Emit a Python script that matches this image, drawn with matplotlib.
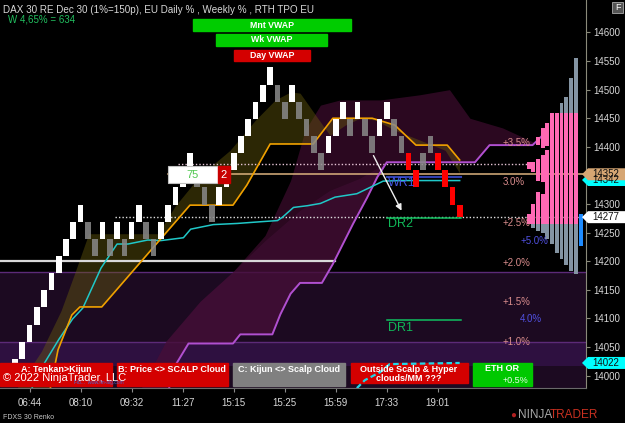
import numpy as np
import matplotlib.pyplot as plt
from matplotlib.patches import Rectangle, Polygon
from matplotlib.transforms import blended_transform_factory

plt.rcParams['font.family'] = ['Liberation Sans', 'DejaVu Sans']

# ---- renko bricks (30 point bricks) ----
brick_open = [13999, 14029, 14059, 14089, 14119, 14149, 14179, 14209, 14239, 14269,
              14269, 14239, 14239, 14239, 14239, 14239, 14239, 14269, 14269, 14239,
              14239, 14269, 14299, 14329, 14359, 14359, 14329, 14299, 14299, 14329,
              14359, 14389, 14419, 14449, 14479, 14509, 14509, 14479, 14479, 14479,
              14449, 14419, 14389, 14389, 14419, 14449, 14449, 14449, 14449, 14419,
              14419, 14449, 14449, 14419, 14389, 14359, 14359, 14389, 14389, 14359,
              14329, 14299]
brick_close = [14029, 14059, 14089, 14119, 14149, 14179, 14209, 14239, 14269, 14299,
               14239, 14209, 14269, 14209, 14269, 14209, 14269, 14299, 14239, 14209,
               14269, 14299, 14329, 14359, 14389, 14329, 14299, 14269, 14329, 14359,
               14389, 14419, 14449, 14479, 14509, 14539, 14479, 14449, 14509, 14449,
               14419, 14389, 14359, 14419, 14449, 14479, 14419, 14479, 14419, 14389,
               14449, 14479, 14419, 14389, 14359, 14329, 14389, 14419, 14359, 14329,
               14299, 14277]
brick_kind = "wwwwwwwwwwggwgwgwwggwwwwwgggwwwwwwwwggwggggwwwgwggwwggrrggrrrr"

time_ticks = [2, 9, 16, 23, 30, 37, 44, 51, 58]
time_labels = ['06:44', '08:10', '09:32', '11:27', '15:15', '15:25', '15:59', '17:33', '19:01']

# ---- indicator lines (bar index, price) ----
kijun_x = [4.8, 5.9, 7.8, 8.9, 11.9, 24.0, 29.9, 31.8, 35.0, 40.9, 43.6, 49.0, 52.1, 55.0, 59.3, 61.0]
kijun_y = [13975, 14045, 14106, 14120, 14120, 14298, 14298, 14333, 14405, 14405, 14450, 14450,
           14438, 14403, 14403, 14377]

scalp_x = [0.1, 3.6, 6.3, 8.3, 10.1, 19.6, 22.0, 25.4, 29.5, 33.0, 35.7, 37.8, 39.1, 41.2, 43.2,
           45.3, 47.3, 49.4, 52.1, 55.5, 59.0, 61.0]
scalp_y = [13975, 14042, 14113, 14183, 14248, 14248, 14297, 14350, 14394, 14447, 14482, 14496,
           14494, 14456, 14420, 14438, 14450, 14447, 14429, 14412, 14394, 14354]

tenkan_x = [2.2, 4.0, 6.0, 7.9, 9.3, 11.8, 14.0, 15.5, 18.2, 20.0, 23.1, 24.1, 27.2, 30.5, 33.7,
            36.0, 36.7, 38.2, 40.1, 41.9, 43.9, 46.9, 48.7, 50.5, 52.8, 61.0]
tenkan_y = [13975, 14021, 14063, 14099, 14118, 14188, 14230, 14230, 14237, 14236, 14241, 14256,
            14264, 14266, 14269, 14271, 14277, 14294, 14297, 14301, 14312, 14318, 14329, 14340,
            14341, 14341]

hyper_x = [21.0, 22.1, 23.8, 29.9, 30.9, 35.3, 36.4, 37.8, 39.1, 42.1, 43.6, 46.4, 48.3, 49.7,
           51.0, 63.1, 65.1, 71.0, 72.2]
hyper_y = [13972, 14020, 14056, 14056, 14072, 14072, 14107, 14143, 14162, 14162, 14195, 14266,
           14311, 14347, 14373, 14373, 14403, 14403, 14418]

kumo_top_x = [17.2, 20.7, 25.4, 30.0, 34.3, 37.8, 39.8, 41.9, 44.6, 50.1, 55.5, 59.6, 62.4, 66.9, 71.5]
kumo_top_y = [13975, 14060, 14130, 14183, 14245, 14341, 14429, 14473, 14482, 14482, 14491, 14500,
              14450, 14433, 14406]
band_x = [17.2, 20.7, 25.4, 30.0, 34.3, 39.1, 43.2, 47.3, 51.0]
band_y = [13975, 14060, 14130, 14183, 14236, 14289, 14324, 14345, 14373]

eth_x = [46.9, 48.0, 50.1, 51.4, 61.0]
eth_y = [13978, 13992, 14006, 14020, 14022]

# ---- TPO profile columns (right to left) ----
tpo_cols = [
    [(14178, 14555)],
    [(14183, 14520)],
    [(14194, 14488)],
    [(14204, 14476)],
    [(14215, 14460)],
    [(14230, 14460)],
    [(14239, 14395), (14402, 14441)],
    [(14250, 14318), (14338, 14385), (14398, 14433)],
    [(14253, 14321), (14341, 14379), (14403, 14417)],
    [(14258, 14300), (14356, 14374)],
    [(14265, 14283), (14362, 14373)],
]
va_low, va_high = 14265, 14460

pct_labels = ['+3.5%', '3.0%', '+2.5%', '+2.0%', '+1.5%', '+1.0%']
pct_prices = [14406, 14338, 14267, 14197, 14128, 14058]
pct2_labels = ['+5.0%', '4.0%']
pct2_prices = [14236, 14099]

W, H = 625, 423
fig = plt.figure(figsize=(6.25, 4.23), dpi=100, facecolor='black')
ax = fig.add_axes([0, 35 / H, 586 / W, 388 / H], facecolor='black')
ax.set_xlim(-2.06, 78.33)
ax.set_ylim(13978.2, 14656.8)


def fx(x):
    return x / W


def fy(y):
    return 1 - y / H


def fbox(x0, y0, x1, y1, color, in_ax=True, **kw):
    r = Rectangle((fx(x0), fy(y1)), (x1 - x0) / W, (y1 - y0) / H,
                  transform=fig.transFigure, color=color, zorder=7 if in_ax else 1, **kw)
    if in_ax:
        ax.add_artist(r)
    else:
        fig.add_artist(r)


# background bands
ax.axhspan(13900, 14181, color='#1c0a21', zorder=0.2, lw=0)
ax.axhspan(14017, 14059, color='#2e1040', zorder=0.3, lw=0)
ax.axhline(14181, color='#5c2a78', lw=1, zorder=0.4)
ax.axhline(14059, color='#5c2a78', lw=1, zorder=0.4)

xs = np.linspace(-2, 73, 900)
ku = np.interp(xs, kumo_top_x, kumo_top_y)
hp = np.interp(xs, hyper_x, hyper_y)
bd = np.interp(xs, band_x, band_y)
kj = np.interp(xs, kijun_x, kijun_y)
sc = np.interp(xs, scalp_x, scalp_y)

ax.fill_between(xs, hp, ku, where=(xs >= 17.2) & (xs <= 71.5) & (ku > hp),
                color='#3a0b2c', alpha=0.75, lw=0, zorder=1)
ax.fill_between(xs, hp, bd, where=(xs >= 17.2) & (xs <= 51) & (bd > hp),
                color='#6a1a5c', alpha=0.2, lw=0, zorder=1.1)
ax.fill_between(xs, kj, sc, where=(xs >= 0.1) & (xs <= 61),
                color='#6a5e0c', alpha=0.42, lw=0, zorder=1.2)

# horizontal levels
ax.plot([-2.06, 43.9], [14200, 14200], color='#d8d8d8', lw=1.6, zorder=2)
ax.plot([22.4, 71.3], [14370, 14370], color='#e6c4d6', lw=1, ls=(0, (1, 1.5)), zorder=2)
ax.plot([13.7, 77.6], [14277, 14277], color='#e0e0e0', lw=1, ls=(0, (1, 1.5)), zorder=2)
ax.plot([21.0, 78.4], [14352, 14352], color='#dcb27e', lw=1.1, zorder=2)
ax.plot([51.0, 61.2], [14347, 14347], color='#3040b0', lw=1.5, zorder=2.5)
ax.plot([51.0, 61.2], [14276, 14276], color='#10c060', lw=1.1, zorder=2.5)
ax.plot([51.0, 61.2], [14097, 14097], color='#10c060', lw=1.1, zorder=2.5)

# indicator lines
ax.plot(eth_x, eth_y, color='#20d8e8', lw=1.6, ls=(0, (2.5, 1.5)), zorder=8)
ax.plot(hyper_x, hyper_y, color='#b050d0', lw=1.4, zorder=3)
ax.plot(tenkan_x, tenkan_y, color='#20c8c8', lw=1.1, zorder=3)
ax.plot(kijun_x, kijun_y, color='#f0a000', lw=1.2, zorder=3)

# bricks
kind_color = {'w': '#ffffff', 'g': '#8a8a8a', 'r': '#ff0000'}
idx = np.arange(len(brick_open))
bottoms = np.minimum(brick_open, brick_close)
heights = np.abs(np.array(brick_close) - np.array(brick_open))
colors = [kind_color[k] for k in brick_kind]
alphas = [0.85 if k == 'g' else 1 for k in brick_kind]
for i in idx:
    ax.bar(i, heights[i], bottom=bottoms[i], width=0.78, color=colors[i],
           alpha=alphas[i], lw=0, zorder=4)

# TPO profile
for c, segs in enumerate(tpo_cols):
    xc = 76.9 - 0.645 * c
    for lo, hi in segs:
        parts = [(lo, min(hi, va_low), '#8494a3'),
                 (max(lo, va_low), min(hi, va_high), '#ff69b4'),
                 (max(lo, va_high), hi, '#8494a3')]
        for a, b, col in parts:
            if b > a:
                ax.bar(xc, b - a, bottom=a, width=0.54, color=col, lw=0, zorder=4)
ax.bar(77.65, 55, bottom=14227, width=0.55, color='#1e8cff', lw=0, zorder=4)

# arrow + labels on chart
ax.annotate('', xy=(53.2, 14284), xytext=(49.0, 14389),
            arrowprops=dict(arrowstyle='-|>', color='#f0f0f0', lw=1, mutation_scale=9), zorder=5)
ax.text(51.1, 14337, 'WR1', color='#4455dd', fontsize=9, va='center', zorder=6)
ax.text(51.1, 14265, 'DR2', color='#10b858', fontsize=9, va='center', zorder=6)
ax.text(51.1, 14083, 'DR1', color='#10b858', fontsize=9, va='center', zorder=6)
for s, p in zip(pct_labels, pct_prices):
    ax.text(66.9, p, s, color='#d98c8c', fontsize=7, va='center', zorder=6)
for s, p in zip(pct2_labels, pct2_prices):
    ax.text(69.3, p, s, color='#5050e0', fontsize=7, va='center', zorder=6)

# axes styling
ax.yaxis.tick_right()
ax.set_yticks(np.arange(14000, 14601, 50))
ax.set_xticks(time_ticks)
ax.set_xticklabels(time_labels)
ax.tick_params(axis='y', colors='#8a8a7a', labelcolor='#d8d8d8', labelsize=7, length=3, pad=2)
ax.tick_params(axis='x', colors='#8a8a8a', labelcolor='#d8d8d8', labelsize=7, length=3, pad=4)
for s in ['top', 'left']:
    ax.spines[s].set_visible(False)
ax.spines['right'].set_color('#8a8a7a')
ax.spines['bottom'].set_color('#6a6a6a')

# title texts
fig.text(fx(3), fy(10), 'DAX 30 RE Dec 30 (1%=150p), EU Daily % , Weekly % , RTH TPO EU',
         color='#d8d8d8', fontsize=7.1, va='center')
fig.text(fx(8), fy(20), 'W 4,65% = 634', color='#22c060', fontsize=7, va='center')

# top vwap boxes
for (x0, y0, x1, y1, col, s) in [(193, 19, 351, 31, '#00cc00', 'Mnt VWAP'),
                                 (216, 34, 327, 46, '#00cc00', 'Wk VWAP'),
                                 (234, 50, 310, 61.5, '#d40000', 'Day VWAP')]:
    fbox(x0, y0, x1, y1, col)
    fig.text(fx((x0 + x1) / 2), fy((y0 + y1) / 2), s, color='white', fontsize=6.3,
             fontweight='bold', ha='center', va='center')

# 75 | 2 box
fbox(168, 166, 218, 183, '#ffffff', ec='#c0c0c0', lw=0.8)
fbox(218, 166, 230, 183, '#c80000')
fig.text(fx(193), fy(174.5), '75', color='#50c850', fontsize=8, ha='center', va='center')
fig.text(fx(224), fy(174.5), '2', color='white', fontsize=8, ha='center', va='center')

# bottom signal boxes
fbox(0, 363, 112, 386, '#d40000')
fbox(117, 363, 228, 386, '#d40000')
fbox(233, 363, 345, 386, '#808080')
fbox(351, 363, 468, 383, '#d40000')
fbox(473, 363, 532, 386, '#00c800')
for x, s in [(56, 'A: Tenkan>Kijun'), (172, 'B: Price <> SCALP Cloud'), (289, 'C: Kijun <> Scalp Cloud')]:
    fig.text(fx(x), fy(369), s, color='white', fontsize=6.5, fontweight='bold', ha='center', va='center')
fig.text(fx(409), fy(369), 'Outside Scalp & Hyper', color='white', fontsize=6.5,
         fontweight='bold', ha='center', va='center')
fig.text(fx(409), fy(378), 'clouds/MM ???', color='white', fontsize=6.5,
         fontweight='bold', ha='center', va='center')
fig.text(fx(502), fy(368), 'ETH OR', color='white', fontsize=6.5, fontweight='bold', ha='center', va='center')
fig.text(fx(528), fy(380), '+0.5%', color='#e8ffe8', fontsize=6.5, ha='right', va='center')
fig.text(fx(3), fy(378), '\u00a9 2022 NinjaTrader, LLC', color='white', fontsize=8, va='center')
fig.text(fx(74), fy(382), 'Fib...  www.fin-alg.com', color='#4a66d0', fontsize=3.5, va='center')

# price markers on the axis
bt = blended_transform_factory(fig.transFigure, ax.transData)
half = 10.5
for price, label, fc in [(14342, '14342', '#00ffff'), (14352, '14352', '#d6a673'),
                         (14277, '14277', '#ffffff'), (14022, '14022', '#00ffff')]:
    poly = Polygon([(fx(582), price), (fx(588), price + half), (1.0, price + half),
                    (1.0, price - half), (fx(588), price - half)],
                   closed=True, transform=bt, fc=fc, ec='none', clip_on=False)
    fig.add_artist(poly)
    fig.text(fx(606), price, label, transform=bt, color='#101010', fontsize=7,
             ha='center', va='center')

# F button
fbox(612, 2, 623, 13, '#555555', in_ax=False, ec='#aaaaaa', lw=0.6)
fig.text(fx(617.5), fy(7.5), 'F', color='white', fontsize=6.5, ha='center', va='center', zorder=5)

# footer
fig.text(fx(3), fy(417), 'FDXS 30 Renko', color='#c8c8c8', fontsize=5, va='center')
fig.text(fx(513), fy(415), '\u25cf', color='#b02020', fontsize=7, ha='center', va='center')
fig.text(fx(518), fy(415), 'NINJA', color='#a8a8a8', fontsize=8.5, va='center')
fig.text(fx(550), fy(415), 'TRADER', color='#c83020', fontsize=8.5, va='center')

fig.savefig('out.png', dpi=100, facecolor='black')
